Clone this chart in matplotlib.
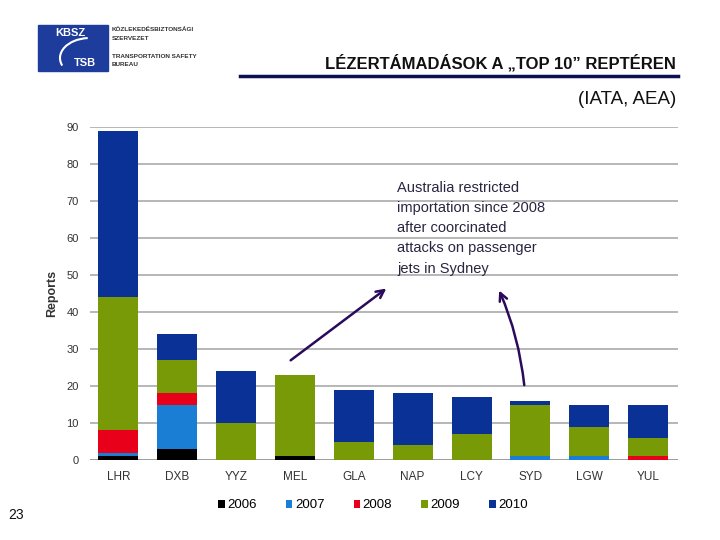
import matplotlib
matplotlib.use("Agg")
import matplotlib.pyplot as plt
import numpy as np
from matplotlib.patches import Rectangle, Arc

airports = ['LHR', 'DXB', 'YYZ', 'MEL', 'GLA', 'NAP', 'LCY', 'SYD', 'LGW', 'YUL']
years = ['2006', '2007', '2008', '2009', '2010']
r2006 = [1, 3, 0, 1, 0, 0, 0, 0, 0, 0]
r2007 = [1, 12, 0, 0, 0, 0, 0, 1, 1, 0]
r2008 = [6, 3, 0, 0, 0, 0, 0, 0, 0, 1]
r2009 = [36, 9, 10, 22, 5, 4, 7, 14, 8, 5]
r2010 = [45, 7, 14, 0, 14, 14, 10, 1, 6, 9]
colors = ['#000000', '#1a7fd4', '#e8001a', '#789a06', '#0a3196']

note = ("Australia restricted\nimportation since 2008\nafter coorcinated\n"
        "attacks on passenger\njets in Sydney")

plt.rcParams['font.family'] = ['Liberation Sans', 'DejaVu Sans']

fig = plt.figure(figsize=(7.2, 5.4), dpi=100)
ax = fig.add_axes([0.125, 0.148, 0.817, 0.617])

x = np.arange(len(airports))
bottom = np.zeros(len(airports))
for yr, vals, c in zip(years, [r2006, r2007, r2008, r2009, r2010], colors):
    ax.bar(x, vals, 0.68, bottom=bottom, color=c, label=yr, zorder=3)
    bottom += np.array(vals)

ax.set_xlim(-0.48, 9.51)
ax.set_ylim(0, 90)
ax.set_yticks(range(0, 91, 10))
ax.set_xticks(x)
ax.set_xticklabels(airports, fontsize=8.5, color='#333333')
for lab in ax.get_yticklabels():
    lab.set_fontsize(8)
    lab.set_color('#333333')
ax.yaxis.grid(True, color='#aaaaaa', linewidth=1.2, zorder=0)
ax.tick_params(length=0, pad=8)
for s in ax.spines.values():
    s.set_visible(False)
ax.axhline(0, color='#999999', linewidth=1.2, zorder=2)
ax.set_ylabel('Reports', fontsize=9, fontweight='bold', color='#333333', labelpad=6)

ax.text(4.74, 75.3, note, fontsize=10.5, color='#2a2540',
        va='top', ha='left', linespacing=1.55, zorder=5)
ax.annotate('', xy=(4.59, 46.8), xytext=(2.89, 26.5),
            arrowprops=dict(arrowstyle='->', color='#2a0a5a', lw=1.8,
                            mutation_scale=14), annotation_clip=False, zorder=6)
ax.annotate('', xy=(6.45, 46.5), xytext=(6.9, 19.5),
            arrowprops=dict(arrowstyle='->', color='#2a0a5a', lw=1.8,
                            mutation_scale=14,
                            connectionstyle='arc3,rad=0.08'),
            annotation_clip=False, zorder=6)

leg = fig.legend(loc='center', bbox_to_anchor=(0.518, 0.064), ncol=5,
                 frameon=False, handlelength=0.5, handleheight=0.5,
                 handletextpad=0.2, columnspacing=2.2, prop={'size': 9.5})

# header
fig.patches.append(Rectangle((38 / 720, 1 - 71 / 540), 70 / 720, 46 / 540,
                             transform=fig.transFigure, color='#1d3c9c'))
fig.text(70 / 720, 1 - 33 / 540, 'KBSZ', color='white', fontsize=8,
         fontweight='bold', ha='center', va='center')
fig.text(85 / 720, 1 - 63 / 540, 'TSB', color='white', fontsize=8,
         fontweight='bold', ha='center', va='center')
fig.patches.append(Arc((90 / 720, 1 - 58 / 540), 60 / 720, 40 / 540, theta1=95,
                       theta2=200, transform=fig.transFigure, color='white', lw=1.5))
small = dict(fontsize=4.6, color='#333333', ha='left', va='center', fontweight='bold')
fig.text(112 / 720, 1 - 29 / 540, 'KÖZLEKEDÉSBIZTONSÁGI', **small)
fig.text(112 / 720, 1 - 38 / 540, 'SZERVEZET', **small)
fig.text(112 / 720, 1 - 56 / 540, 'TRANSPORTATION SAFETY', **small)
fig.text(112 / 720, 1 - 65 / 540, 'BUREAU', **small)

fig.text(676 / 720, 1 - 63 / 540, 'LÉZERTÁMADÁSOK A „TOP 10” REPTÉREN',
         fontsize=12, fontweight='bold', color='#111111', ha='right', va='center')
fig.add_artist(plt.Line2D([240 / 720, 678 / 720], [1 - 76 / 540, 1 - 76 / 540],
                          transform=fig.transFigure, color='#0a1050', lw=2.5))
fig.text(676 / 720, 1 - 99 / 540, '(IATA, AEA)', fontsize=13.5, color='#111111',
         ha='right', va='center')
fig.text(16 / 720, 1 - 515 / 540, '23', fontsize=10, color='#111111',
         ha='center', va='center')

fig.savefig('out.png', dpi=100)
